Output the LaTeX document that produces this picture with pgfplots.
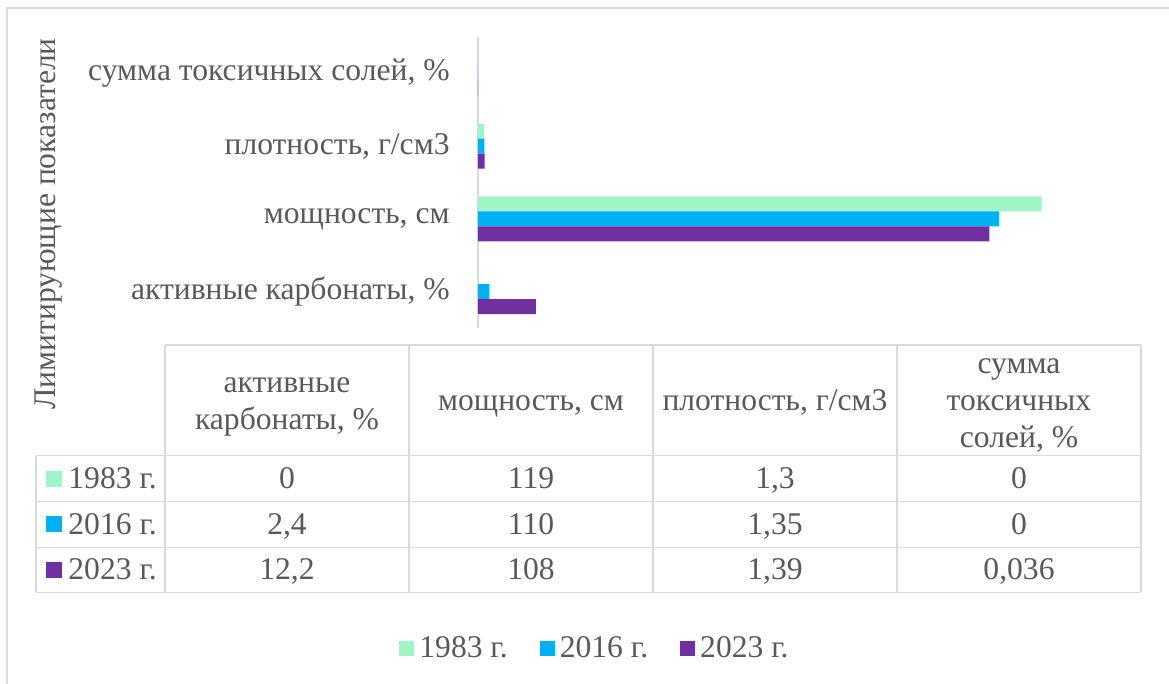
\documentclass[border=0pt]{standalone}
\usepackage{fontspec}
\setmainfont{Liberation Serif}
\usepackage{pgfplots}
\pgfplotsset{compat=1.18}
\definecolor{txt}{HTML}{595959}
\definecolor{gridc}{HTML}{D9D9D9}
\definecolor{mint}{HTML}{A0F5C8}
\definecolor{cyanx}{HTML}{00B0F0}
\definecolor{purp}{HTML}{7030A0}
\newcommand{\fs}{\fontsize{15.8}{18.5}\selectfont}
\begin{document}
\begin{tikzpicture}
\begin{scope}[x=0.5pt,y=-0.5pt]
\useasboundingbox (0,0) rectangle (1169,684);
\fill[white] (0,0) rectangle (1169,684);
\draw[gridc, line width=0.75pt] (7,684) -- (7,8) -- (1169,8);
\end{scope}
\begin{axis}[
  scale only axis, width=331.5pt, height=145.5pt,
  anchor=south west, at={(239pt,-164pt)},
  xmin=0, xmax=140, ymin=-0.5, ymax=3.5,
  axis x line=none, axis y line*=left,
  y axis line style={gridc, line width=0.75pt},
  ytick={0,1,2,3},
  yticklabels={{активные карбонаты, \%},{мощность, см},{плотность, г/см3},{сумма токсичных солей, \%}},
  major tick length=0pt,
  yticklabel style={text=txt, font=\fs, inner sep=0pt, xshift=-14pt},
  bar width=7.5pt,
  legend columns=3,
  legend style={at={(0.1780,-1.0997)}, anchor=center, draw=none, fill=none, font=\fs, text=txt,
    /tikz/every odd column/.append style={column sep=0.5pt},
    /tikz/every even column/.append style={column sep=14pt}},
  legsq/.style={legend image code/.code={\fill[##1] (0pt,-3.75pt) rectangle (7.5pt,3.75pt);}},
]
\addplot[xbar, fill=mint, draw=none, bar shift=7.5pt, legsq] coordinates {(0,0) (119,1) (1.3,2) (0,3)};
\addlegendentry{1983 г.}
\addplot[xbar, fill=cyanx, draw=none, bar shift=0pt, legsq] coordinates {(2.4,0) (110,1) (1.35,2) (0,3)};
\addlegendentry{2016 г.}
\addplot[xbar, fill=purp, draw=none, bar shift=-7.5pt, legsq] coordinates {(12.2,0) (108,1) (1.39,2) (0.036,3)};
\addlegendentry{2023 г.}
\end{axis}
\begin{scope}[x=0.5pt,y=-0.5pt, every node/.style={text=txt, font=\fs}]
\node[rotate=90, inner sep=0pt] at (48.5,224) {Лимитирующие показатели};
% table grid
\begin{scope}[gridc, line width=0.75pt]
\draw (165,345) -- (1141,345);
\foreach \y in {455.7,501.7,547.3,592.3} \draw (36,\y) -- (1141,\y);
\draw (36,455.7) -- (36,592.3);
\foreach \x in {165,409,653,897,1141} \draw (\x,345) -- (\x,592.3);
\end{scope}
% header
\begin{scope}[every node/.append style={anchor=base, inner sep=0pt}]
\node at (287,392.5) {активные};
\node at (287,429.5) {карбонаты, \%};
\node at (531,411) {мощность, см};
\node at (775,411) {плотность, г/см3};
\node at (1019,374) {сумма};
\node at (1019,411) {токсичных};
\node at (1019,448) {солей, \%};
% rows
\node[anchor=base west] at (68,488.5) {1983 г.};
\node[anchor=base west] at (68,534.3) {2016 г.};
\node[anchor=base west] at (68,579.6) {2023 г.};
\node at (287,488.5) {0};
\node at (287,534.3) {2,4};
\node at (287,579.6) {12,2};
\node at (531,488.5) {119};
\node at (531,534.3) {110};
\node at (531,579.6) {108};
\node at (775,488.5) {1,3};
\node at (775,534.3) {1,35};
\node at (775,579.6) {1,39};
\node at (1019,488.5) {0};
\node at (1019,534.3) {0};
\node at (1019,579.6) {0,036};
\end{scope}
\fill[mint] (46,470.7) rectangle (62,486.7);
\fill[cyanx] (46,516.5) rectangle (62,532.5);
\fill[purp] (46,561.8) rectangle (62,577.8);
\end{scope}
\end{tikzpicture}
\end{document}
